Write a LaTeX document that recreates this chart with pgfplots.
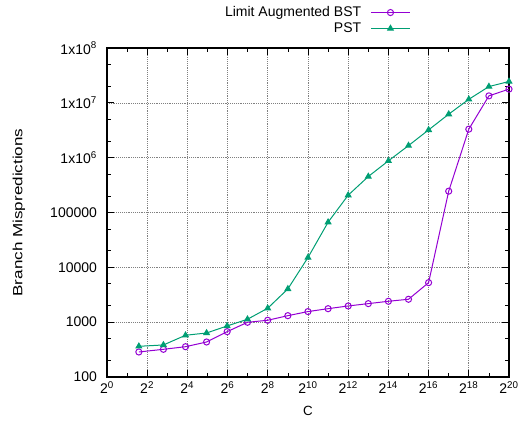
\documentclass[border=0pt]{standalone}
\usepackage{fontspec}
\setmainfont{Liberation Sans}
\usepackage{graphicx}
\usepackage{pgfplots}
\pgfplotsset{compat=1.18}
\definecolor{bstc}{HTML}{9400D3}
\definecolor{pstc}{HTML}{009E73}
\newcommand{\sps}[1]{\textsuperscript{#1}}
\begin{document}
\begin{tikzpicture}
\begin{axis}[
  at={(0pt,0pt)}, anchor=south west,
  scale only axis, width=301.5pt, height=246.75pt,
  xmode=log, ymode=log, log basis x=2, log basis y=10,
  xmin=1, xmax=1048576, ymin=100, ymax=1e8,
  xtick={1,4,16,64,256,1024,4096,16384,65536,262144,1048576},
  xticklabels={2\sps{0},2\sps{2},2\sps{4},2\sps{6},2\sps{8},2\sps{10},2\sps{12},2\sps{14},2\sps{16},2\sps{18},2\sps{20}},
  extra x ticks={2,8,32,128,512,2048,8192,32768,131072,524288},
  extra x tick labels={},
  extra x tick style={grid=none, major tick length=3pt},
  ytick={100,1000,10000,100000,1000000,10000000,100000000},
  yticklabels={100,1000,10000,100000,1x10\sps{6},1x10\sps{7},1x10\sps{8}},
  minor ytick={200,500,2000,5000,20000,50000,200000,500000,2000000,5000000,20000000,50000000},
  tick align=inside,
  major tick length=5pt, minor tick length=3pt,
  every tick/.style={black, line width=0.6pt},
  axis line style={line width=1pt},
  grid=major,
  major grid style={densely dotted, black!50, line width=0.5pt},
  tick label style={font=\fontsize{10.5}{12}\selectfont},
  yticklabel style={xshift=-4pt},
  xlabel={C},
  ylabel={\scalebox{1.28}[1]{Branch Mispredictions}},
  label style={font=\fontsize{10.5}{12}\selectfont},
  every axis x label/.style={at={(axis description cs:0.5,-0.103)}, anchor=center},
  every axis y label/.style={at={(axis description cs:-0.219,0.5)}, anchor=center, rotate=90},
  legend plot pos=right,
  legend cell align=right,
  legend style={draw=none, fill=none, at={(axis description cs:0.7555,1)}, anchor=south east, yshift=8pt,
    font=\fontsize{10.5}{12}\selectfont, row sep=-1pt, inner sep=0pt},
  legend image code/.code={\path (-5pt,0pt); \draw[mark repeat=2, mark phase=2] plot coordinates {(0pt,0pt) (14.6pt,0pt) (29.2pt,0pt)};},
]
\addplot[color=bstc, line width=0.75pt, mark=o, mark size=2.3pt, mark options={line width=0.75pt}] coordinates {
(3,286) (7,320) (15,357) (31,435) (63,671) (127,995) (255,1083) (511,1314)
(1023,1560) (2047,1762) (4095,1976) (8191,2178) (16383,2404) (32767,2617)
(65535,5260) (131071,244800) (262143,3310000) (524287,13400000) (1048575,17800000)
};
\addlegendentry{Limit Augmented BST}
\addplot[color=pstc, line width=0.75pt, mark=triangle*, mark size=2.4pt] coordinates {
(3,363) (7,384) (15,577) (31,635) (63,853) (127,1130) (255,1794) (511,4035)
(1023,15100) (2047,66500) (4095,207000) (8191,453000) (16383,875000) (32767,1660000)
(65535,3210000) (131071,6210000) (262143,11600000) (524287,19800000) (1048575,24500000)
};
\addlegendentry{PST}
\end{axis}
\pgfresetboundingbox
\useasboundingbox (-80.25pt,-33.75pt) rectangle (310.5pt,282.75pt);
\end{tikzpicture}
\end{document}
